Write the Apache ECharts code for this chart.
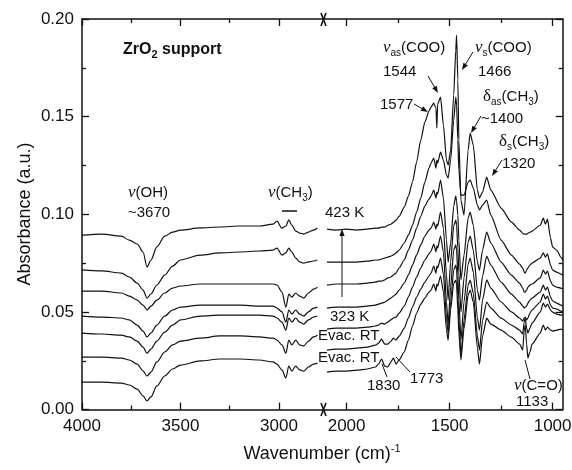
<!DOCTYPE html>
<html><head><meta charset="utf-8">
<script src="https://cdn.jsdelivr.net/npm/echarts@6/dist/echarts.min.js"></script>
<style>html,body{margin:0;padding:0;background:#fff}#c{width:572px;height:470px}</style>
</head><body><div id="c"></div>
<script>
// ---------- DATA ----------
const xTicksLeft = [4000, 3500, 3000];
const xMinorLeft = [3750, 3250];
const xTicksRight = [2000, 1500, 1000];
const xMinorRight = [1750, 1250];

const wnLeft = [4000,3900,3800,3760,3720,3690,3670,3650,3620,3580,3540,3500,3400,3300,3200,3100,3030,3010,2985,2965,2950,2935,2915,2895,2875,2850,2825,2805];
const s1L = [0.0893,0.0899,0.0888,0.0868,0.0848,0.0807,0.0730,0.0766,0.0833,0.0888,0.0909,0.0919,0.0930,0.0935,0.0940,0.0940,0.0950,0.0965,0.0929,0.0940,0.0971,0.0945,0.0914,0.0904,0.0899,0.0909,0.0919,0.0930];
const s2L = [0.0715,0.0710,0.0699,0.0679,0.0648,0.0612,0.0571,0.0592,0.0638,0.0689,0.0735,0.0766,0.0791,0.0802,0.0807,0.0812,0.0817,0.0827,0.0791,0.0802,0.0827,0.0807,0.0776,0.0756,0.0750,0.0756,0.0761,0.0766];
const s3L = [0.0607,0.0607,0.0597,0.0581,0.0561,0.0535,0.0510,0.0530,0.0561,0.0597,0.0622,0.0633,0.0643,0.0643,0.0643,0.0643,0.0643,0.0638,0.0602,0.0525,0.0591,0.0576,0.0597,0.0581,0.0571,0.0597,0.0617,0.0627];
const s4L = [0.0479,0.0474,0.0469,0.0459,0.0433,0.0402,0.0372,0.0392,0.0433,0.0479,0.0510,0.0525,0.0535,0.0535,0.0535,0.0530,0.0530,0.0520,0.0500,0.0448,0.0510,0.0489,0.0510,0.0489,0.0479,0.0500,0.0520,0.0525];
const s5L = [0.0392,0.0387,0.0381,0.0372,0.0351,0.0320,0.0289,0.0310,0.0351,0.0397,0.0433,0.0459,0.0479,0.0484,0.0484,0.0484,0.0479,0.0469,0.0448,0.0407,0.0469,0.0448,0.0469,0.0448,0.0438,0.0459,0.0474,0.0479];
const s6L = [0.0269,0.0269,0.0264,0.0254,0.0233,0.0198,0.0172,0.0192,0.0244,0.0295,0.0331,0.0351,0.0366,0.0377,0.0377,0.0372,0.0366,0.0356,0.0331,0.0289,0.0356,0.0331,0.0356,0.0331,0.0326,0.0351,0.0372,0.0381];
const s7L = [0.0141,0.0141,0.0136,0.0126,0.0105,0.0070,0.0044,0.0065,0.0121,0.0172,0.0208,0.0228,0.0249,0.0259,0.0259,0.0254,0.0244,0.0233,0.0203,0.0162,0.0223,0.0197,0.0223,0.0203,0.0197,0.0218,0.0233,0.0238];

const wnRight = [2095,2050,2000,1950,1900,1860,1845,1830,1815,1800,1785,1773,1760,1745,1720,1700,1680,1660,1640,1620,1600,1590,1577,1566,1562,1558,1544,1530,1515,1507,1495,1480,1470,1466,1460,1455,1445,1430,1410,1400,1385,1365,1355,1340,1320,1300,1250,1200,1160,1145,1138,1133,1126,1120,1110,1100,1060,1045,1035,1025,1010,1000,980,960,951];
const s1R = [0.0924,0.0919,0.0924,0.0919,0.0924,0.0929,0.0929,0.0934,0.0934,0.0944,0.0949,0.0959,0.0970,0.0990,0.1037,0.1093,0.1165,0.1268,0.1380,0.1472,0.1529,0.1549,0.1569,0.1544,0.1441,0.1564,0.1600,0.1457,0.1277,0.1252,0.1329,0.1611,0.1841,0.1918,0.1688,0.1380,0.1073,0.0996,0.1329,0.1416,0.1354,0.1124,0.1083,0.1114,0.1190,0.1124,0.1032,0.0960,0.0919,0.0903,0.0898,0.0898,0.0898,0.0903,0.0908,0.0914,0.0944,0.0980,0.0949,0.0975,0.0878,0.0832,0.0817,0.0781,0.0766];
const s2R = [0.0755,0.0755,0.0755,0.0755,0.0760,0.0766,0.0766,0.0771,0.0776,0.0781,0.0786,0.0792,0.0802,0.0817,0.0853,0.0893,0.0944,0.1011,0.1083,0.1165,0.1236,0.1262,0.1288,0.1236,0.1277,0.1262,0.1318,0.1277,0.1201,0.1185,0.1277,0.1482,0.1600,0.1559,0.1380,0.1226,0.1098,0.1098,0.1165,0.1175,0.1134,0.1047,0.1022,0.1047,0.1073,0.0996,0.0868,0.0791,0.0745,0.0725,0.0704,0.0699,0.0714,0.0725,0.0740,0.0750,0.0776,0.0802,0.0781,0.0797,0.0740,0.0714,0.0704,0.0694,0.0689];
const s3R = [0.0637,0.0643,0.0643,0.0643,0.0648,0.0653,0.0658,0.0658,0.0664,0.0674,0.0679,0.0689,0.0699,0.0725,0.0766,0.0817,0.0868,0.0929,0.0990,0.1042,0.1078,0.1093,0.1124,0.1083,0.1114,0.1103,0.1175,0.1083,0.0868,0.0755,0.0852,0.1042,0.1093,0.1068,0.0996,0.0868,0.0664,0.0791,0.0980,0.1011,0.0944,0.0755,0.0714,0.0817,0.0909,0.0853,0.0755,0.0689,0.0648,0.0622,0.0602,0.0602,0.0612,0.0627,0.0637,0.0643,0.0674,0.0714,0.0694,0.0709,0.0658,0.0637,0.0627,0.0622,0.0617];
const s4R = [0.0520,0.0525,0.0525,0.0525,0.0530,0.0535,0.0540,0.0545,0.0550,0.0561,0.0571,0.0581,0.0591,0.0612,0.0648,0.0689,0.0740,0.0792,0.0843,0.0889,0.0919,0.0929,0.0960,0.0924,0.0950,0.0940,0.1011,0.0929,0.0689,0.0561,0.0755,0.0940,0.0970,0.0945,0.0827,0.0704,0.0500,0.0674,0.0858,0.0888,0.0817,0.0612,0.0561,0.0683,0.0786,0.0740,0.0653,0.0591,0.0550,0.0530,0.0520,0.0525,0.0530,0.0545,0.0561,0.0571,0.0602,0.0637,0.0612,0.0627,0.0576,0.0556,0.0545,0.0535,0.0530];
const s5R = [0.0412,0.0417,0.0417,0.0417,0.0422,0.0428,0.0433,0.0443,0.0438,0.0448,0.0459,0.0469,0.0474,0.0494,0.0530,0.0576,0.0627,0.0679,0.0725,0.0766,0.0797,0.0812,0.0848,0.0807,0.0838,0.0827,0.0889,0.0807,0.0551,0.0433,0.0627,0.0817,0.0843,0.0817,0.0689,0.0561,0.0356,0.0551,0.0745,0.0776,0.0704,0.0469,0.0407,0.0561,0.0664,0.0622,0.0551,0.0500,0.0469,0.0453,0.0469,0.0474,0.0459,0.0469,0.0494,0.0510,0.0551,0.0592,0.0566,0.0581,0.0535,0.0520,0.0515,0.0504,0.0499];
const s6R = [0.0305,0.0310,0.0310,0.0315,0.0320,0.0330,0.0340,0.0361,0.0335,0.0335,0.0350,0.0366,0.0356,0.0376,0.0417,0.0469,0.0525,0.0576,0.0617,0.0653,0.0684,0.0699,0.0735,0.0699,0.0735,0.0725,0.0776,0.0694,0.0469,0.0392,0.0551,0.0714,0.0740,0.0714,0.0584,0.0458,0.0279,0.0458,0.0638,0.0663,0.0597,0.0376,0.0305,0.0458,0.0551,0.0520,0.0468,0.0433,0.0407,0.0387,0.0448,0.0469,0.0417,0.0392,0.0417,0.0443,0.0499,0.0545,0.0525,0.0540,0.0510,0.0499,0.0489,0.0484,0.0484];
const s7R = [0.0192,0.0197,0.0197,0.0202,0.0208,0.0218,0.0233,0.0259,0.0223,0.0218,0.0243,0.0264,0.0233,0.0254,0.0295,0.0356,0.0428,0.0494,0.0540,0.0571,0.0602,0.0612,0.0643,0.0607,0.0643,0.0632,0.0684,0.0602,0.0407,0.0356,0.0510,0.0648,0.0663,0.0638,0.0510,0.0392,0.0254,0.0417,0.0586,0.0612,0.0551,0.0315,0.0233,0.0376,0.0468,0.0438,0.0407,0.0371,0.0335,0.0305,0.0407,0.0433,0.0335,0.0264,0.0295,0.0335,0.0392,0.0433,0.0407,0.0422,0.0407,0.0402,0.0407,0.0412,0.0407];

// ---------- CHART ----------
const FONT = 'Liberation Sans, Arial, Helvetica, sans-serif';
const INK = '#111';
const chart = echarts.init(document.getElementById('c'), null, {renderer: 'canvas'});

const G = [
  {left: 82, top: 19, width: 241.3, height: 390.6},
  {left: 323.3, top: 19, width: 239.4, height: 390.6}
];
const ranges = [[2775, 4000], [951, 2113]];

function xAx(grid, pos, vals, len, labels, lineShow) {
  return {
    type: 'value', gridIndex: grid, position: pos, inverse: true,
    min: ranges[grid][0], max: ranges[grid][1],
    axisLine: {show: lineShow, onZero: false, lineStyle: {color: INK, width: 1.5}},
    axisTick: {show: true, inside: true, length: len, customValues: vals, lineStyle: {color: INK, width: 1.3}},
    axisLabel: {show: labels, customValues: vals, color: INK, fontSize: 17, fontFamily: FONT, margin: 8,
      formatter: v => String(Math.round(v))},
    splitLine: {show: false}
  };
}
const xAxes = [
  xAx(0, 'bottom', xTicksLeft, 7, true, true),
  xAx(0, 'bottom', xMinorLeft, 4, false, false),
  xAx(0, 'top', xTicksLeft, 7, false, true),
  xAx(0, 'top', xMinorLeft, 4, false, false),
  xAx(1, 'bottom', xTicksRight, 7, true, true),
  xAx(1, 'bottom', xMinorRight, 4, false, false),
  xAx(1, 'top', xTicksRight, 7, false, true),
  xAx(1, 'top', xMinorRight, 4, false, false)
];
function yAx(grid, pos, labels) {
  return {
    type: 'value', gridIndex: grid, position: pos, min: 0, max: 0.2, interval: 0.05,
    axisLine: {show: true, onZero: false, lineStyle: {color: INK, width: 1.5}},
    axisTick: {show: true, inside: true, length: 7, lineStyle: {color: INK, width: 1.3}},
    minorTick: {show: true, splitNumber: 2, length: 4, lineStyle: {color: INK, width: 1.3}},
    axisLabel: {show: labels, color: INK, fontSize: 17, fontFamily: FONT, margin: 8,
      formatter: v => v.toFixed(2)},
    splitLine: {show: false}, minorSplitLine: {show: false}
  };
}
const yAxes = [yAx(0, 'left', true), yAx(1, 'right', false)];

const leftSets = [s1L, s2L, s3L, s4L, s5L, s6L, s7L];
const rightSets = [s1R, s2R, s3R, s4R, s5R, s6R, s7R];
const series = [];
leftSets.forEach((arr, i) => series.push({
  type: 'line', xAxisIndex: 0, yAxisIndex: 0, name: 'L' + i,
  data: wnLeft.map((w, k) => [w, arr[k]]),
  showSymbol: false, symbol: 'none', silent: true, smooth: 0.3, smoothMonotone: 'x',
  lineStyle: {color: INK, width: 1.2}
}));
rightSets.forEach((arr, i) => series.push({
  type: 'line', xAxisIndex: 4, yAxisIndex: 1, name: 'R' + i,
  data: wnRight.map((w, k) => [w, arr[k]]),
  showSymbol: false, symbol: 'none', silent: true, smooth: 0.2, smoothMonotone: 'x',
  lineStyle: {color: INK, width: 1.2}
}));

// ---------- ANNOTATIONS ----------
const rich = {
  t: {fontSize: 15, fontFamily: FONT, fill: INK, lineHeight: 20},
  n: {fontSize: 17, fontFamily: 'Liberation Serif, Times New Roman, serif', fontStyle: 'italic', fill: INK, lineHeight: 20},
  d: {fontSize: 17, fontFamily: 'Liberation Serif, Times New Roman, serif', fill: INK, lineHeight: 20},
  sub: {fontSize: 10, fontFamily: FONT, fill: INK, lineHeight: 10, verticalAlign: 'bottom'},
  b: {fontSize: 16, fontFamily: FONT, fontWeight: 'bold', fill: INK, lineHeight: 20},
  bs: {fontSize: 11, fontFamily: FONT, fontWeight: 'bold', fill: INK, lineHeight: 10, verticalAlign: 'bottom'},
  a: {fontSize: 18, fontFamily: FONT, fill: INK, lineHeight: 22},
  sup: {fontSize: 11, fontFamily: FONT, fill: INK, lineHeight: 10, verticalAlign: 'top'}
};
function txt(x, y, text, align) {
  return {type: 'text', x: x, y: y, silent: true,
    style: {text: text, rich: rich, fill: INK, font: '15px ' + FONT,
      align: align || 'left', textAlign: align || 'left',
      verticalAlign: 'middle', textVerticalAlign: 'middle'}};
}
function seg(x1, y1, x2, y2, w) {
  return {type: 'line', silent: true, shape: {x1: x1, y1: y1, x2: x2, y2: y2},
    style: {stroke: INK, lineWidth: w || 1}};
}
function arrow(x1, y1, x2, y2) {
  const dx = x2 - x1, dy = y2 - y1, L = Math.hypot(dx, dy), ux = dx / L, uy = dy / L;
  const hl = 7, hw = 2.6;
  return [seg(x1, y1, x2 - ux * 3, y2 - uy * 3),
    {type: 'polygon', silent: true, shape: {points: [[x2, y2],
      [x2 - ux * hl - uy * hw, y2 - uy * hl + ux * hw],
      [x2 - ux * hl + uy * hw, y2 - uy * hl - ux * hw]]}, style: {fill: INK}}];
}
const graphics = [
  txt(123, 50, '{b|ZrO}{bs|2}{b| support}'),
  txt(128, 193, '{n|ν}{t|(OH)}'),
  txt(128, 213, '{t|~3670}'),
  txt(268, 193, '{n|ν}{t|(CH}{sub|3}{t|)}'),
  seg(282, 211, 297, 211, 1.5),
  txt(325, 213, '{t|423 K}'),
  txt(330, 317, '{t|323 K}'),
  txt(318, 336, '{t|Evac. RT}'),
  txt(318, 358, '{t|Evac. RT}'),
  txt(367, 386, '{t|1830}'),
  txt(410, 379, '{t|1773}'),
  txt(514, 386, '{n|ν}{t|(C=O)}'),
  txt(516, 402, '{t|1133}'),
  txt(383, 48, '{n|ν}{sub|as}{t|(COO)}'),
  txt(383, 72, '{t|1544}'),
  txt(380, 105, '{t|1577}'),
  txt(475, 48, '{n|ν}{sub|s}{t|(COO)}'),
  txt(478, 72, '{t|1466}'),
  txt(483, 97, '{d|δ}{sub|as}{t|(CH}{sub|3}{t|)}'),
  txt(481, 119, '{t|~1400}'),
  txt(499, 142, '{d|δ}{sub|s}{t|(CH}{sub|3}{t|)}'),
  txt(502, 164, '{t|1320}'),
  ...arrow(428, 76, 438, 93),
  ...arrow(414, 104, 428, 112),
  ...arrow(473, 52, 462, 70),
  ...arrow(481, 116, 471, 133),
  ...arrow(502, 160, 492, 176),
  ...arrow(342, 297, 342, 229),
  seg(382, 364, 387, 377),
  seg(396, 357, 410, 372),
  seg(525, 360, 530, 379),
  // axis break marks
  seg(321, 13, 326, 26, 1.6), seg(326, 13, 321, 26, 1.6),
  seg(321, 403, 326, 416, 1.6), seg(326, 403, 321, 416, 1.6),
  // axis titles
  {type: 'text', x: 25, y: 214, rotation: Math.PI / 2, silent: true,
    style: {text: 'Absorbance (a.u.)', fill: INK, font: '18px ' + FONT,
      align: 'center', textAlign: 'center', verticalAlign: 'middle', textVerticalAlign: 'middle'}},
  txt(322, 454, '{a|Wavenumber (cm)}{sup|-1}', 'center')
];

chart.setOption({
  animation: false,
  backgroundColor: '#fff',
  grid: G.map(g => Object.assign({outerBoundsMode: 'none', containLabel: false}, g)),
  xAxis: xAxes,
  yAxis: yAxes,
  series: series,
  graphic: {elements: graphics}
});
</script></body></html>
